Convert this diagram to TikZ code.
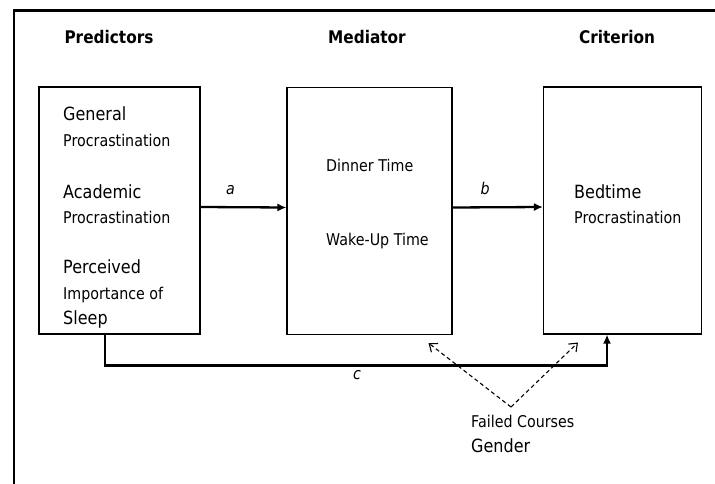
\documentclass[tikz,border=0pt]{standalone}
\usepackage{fontspec}
\setmainfont{DejaVu Sans}[FakeStretch=0.88]
\usepackage{tikz}
\usetikzlibrary{arrows.meta}

\newcommand{\lrg}{\fontsize{18.2}{25.5}\selectfont}
\newcommand{\sml}{\fontsize{16.2}{25.5}\selectfont}

\begin{document}
\begin{tikzpicture}[ x = 1pt, y = -1pt,
	box/.style = { draw, line width = 1.1pt, minimum width = #1, minimum height = 247pt, inner sep = 0pt },
	txt/.style = { anchor = west, align = left, inner sep = 0pt, font = \sml },
	ttl/.style = { font = \fontsize{17.4}{20}\selectfont\bfseries },
	arr/.style = { line width = 2.3pt, -{Latex[length=9pt,width=8pt]} },
	dasharr/.style = { line width = 1.1pt, dash pattern = on 4pt off 3pt, -{Straight Barb[length=7pt,width=11pt]} } ]
	\useasboundingbox (0,0) rectangle (715,484);
	\draw [ line width = 2.6pt ] (14,484) -- (14,10.5) -- (715,10.5);

	\node [ ttl ] (t1) at (109,37) 
		{ Predictors };
	\node [ ttl ] (t2) at (367,37) 
		{ Mediator };
	\node [ ttl ] (t3) at (617,37) 
		{ Criterion };

	\node [ box = 161pt ] (1) at (119.5,210.5) {};
	\node [ box = 165pt ] (2) at (369.5,211) {};
	\node [ box = 158pt ] (3) at (622.5,210.5) {};

	\node [ txt ] (1a) at (63,126.5) 
		{ {\lrg General} \\ Procrastination };
	\node [ txt ] (1b) at (63,204) 
		{ {\lrg Academic} \\ Procrastination };
	\node [ txt ] (1c) at (63,294) 
		{ {\lrg Perceived} \\ Importance of \\ {\lrg Sleep} };
	\node [ txt ] (2a) at (326,165) 
		{ Dinner Time };
	\node [ txt ] (2b) at (326,241) 
		{ Wake-Up Time };
	\node [ txt ] (3a) at (574,204) 
		{ {\lrg Bedtime} \\ Procrastination };
	\node [ txt ] (fc) at (471,434) 
		{ Failed Courses \\ {\lrg Gender} };
	\coordinate (cov) at (511,407);

	\draw [ arr ] ([yshift=3.5pt]1.east) to node [ pos = .35, above = 8pt, font = \sml\itshape ] { a } ([yshift=3.5pt]2.west);
	\draw [ arr ] ([yshift=3.5pt]2.east) to node [ pos = .36, above = 8pt, font = \sml\itshape ] { b } ([yshift=3.5pt]3.west);
	\draw [ arr ] ([xshift=-14.5pt]1.south) -- ++(0,31) -| node [ pos = .251, below, font = \sml\itshape ] { c } ([xshift=-15.5pt]3.south);
	\draw [ dasharr ] (cov) -- ([xshift=-24pt,yshift=-8pt]2.south east);
	\draw [ dasharr ] (cov) -- ([xshift=35pt,yshift=-8pt]3.south west);
\end{tikzpicture}
\end{document}
